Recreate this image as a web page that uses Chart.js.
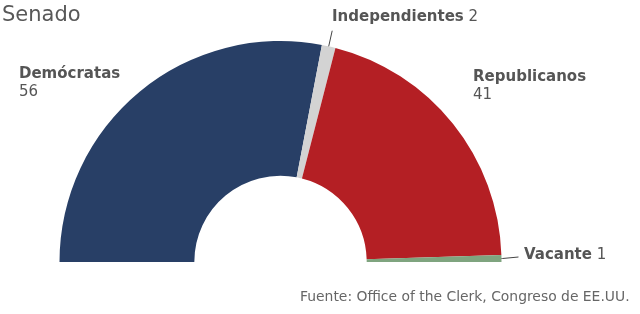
<!DOCTYPE html>
<html>
<head>
<meta charset="utf-8">
<script src="https://cdn.jsdelivr.net/npm/chart.js@4"></script>
<style>
  body { margin: 0; background: #fff; }
  #wrap { position: relative; width: 640px; height: 314px; font-family: "DejaVu Sans", Verdana, sans-serif; color: #555; }
  canvas { position: absolute; left: 0; top: 0; }
  .t { position: absolute; white-space: nowrap; }
  .lbl { font-size: 15px; line-height: 18px; }
  .lbl b { font-weight: bold; }
</style>
</head>
<body>
<div id="wrap">
  <canvas id="SenadoChart" width="640" height="314"></canvas>
  <div class="t" style="left:2px; top:2px; font-size:21px; color:#585858;">Senado</div>
  <div class="t lbl" style="left:19px; top:64px;"><b>Demócratas</b><br>56</div>
  <div class="t lbl" style="left:332px; top:7px;"><b>Independientes</b> 2</div>
  <div class="t lbl" style="left:473px; top:67px;"><b>Republicanos</b><br>41</div>
  <div class="t lbl" style="left:524px; top:245px;"><b>Vacante</b> 1</div>
  <div class="t" style="left:300px; top:288px; font-size:13.9px; color:#666;">Fuente: Office of the Clerk, Congreso de EE.UU.</div>
</div>
<script>
// Senado - escaños por partido
const partidos = ['Demócratas', 'Independientes', 'Republicanos', 'Vacante'];
const escanos = [56, 2, 41, 1];
const colores = ['#283f66', '#d3d3d3', '#b41f24', '#7fa47f'];

// lineas guia para los sectores pequeños
const leaderLines = {
    id: 'leaderLines',
    afterDatasetsDraw(chart) {
        const ctx = chart.ctx;
        const arcs = chart.getDatasetMeta(0).data;
        const guias = [[1, 16, 0], [3, 1, 16]]; // indice, largo radial, largo horizontal
        ctx.save();
        ctx.strokeStyle = '#444';
        ctx.lineWidth = 1;
        guias.forEach(([i, len, h]) => {
            const a = arcs[i];
            const mid = (a.startAngle + a.endAngle) / 2;
            const x1 = a.x + Math.cos(mid) * a.outerRadius;
            const y1 = a.y + Math.sin(mid) * a.outerRadius;
            const x2 = a.x + Math.cos(mid) * (a.outerRadius + len);
            const y2 = a.y + Math.sin(mid) * (a.outerRadius + len);
            ctx.beginPath();
            ctx.moveTo(x1, y1);
            ctx.lineTo(x2, y2);
            if (h) ctx.lineTo(x2 + h, y2 - 1.5);
            ctx.stroke();
        });
        ctx.restore();
    }
};

new Chart(document.getElementById('SenadoChart'), {
    type: 'doughnut',
    data: {
        labels: partidos,
        datasets: [{
            data: escanos,
            backgroundColor: colores,
            borderWidth: 0
        }]
    },
    options: {
        responsive: false,
        animation: false,
        rotation: -90,
        circumference: 180,
        cutout: '39%',
        layout: { padding: { left: 59, right: 138, top: 41, bottom: 52 } },
        plugins: {
            legend: { display: false },
            tooltip: { enabled: false }
        }
    },
    plugins: [leaderLines]
});
</script>
</body>
</html>
